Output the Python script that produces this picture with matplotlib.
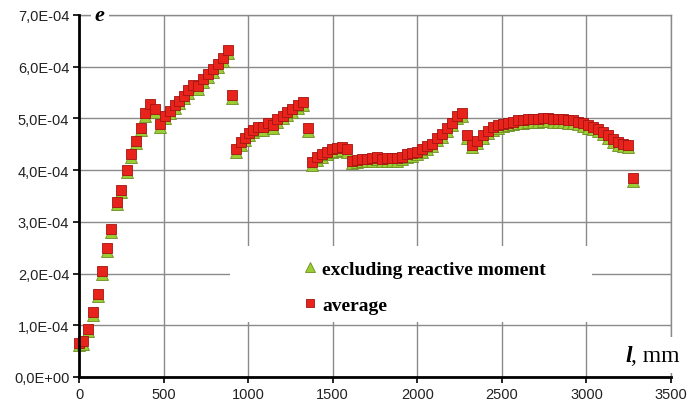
import numpy as np
import matplotlib.pyplot as plt
from matplotlib.patches import Rectangle
from matplotlib.ticker import FuncFormatter

## positions along the element, mm
l_mm = [0, 25, 55, 81, 112, 138, 167, 191, 222, 248, 282, 305, 337, 365, 392, 420,
        451, 481, 510, 538, 567, 594, 621, 647, 673, 704, 734, 764, 794, 823, 850, 880,
        905, 930, 956, 981, 1007, 1031, 1060, 1090, 1119, 1145, 1172, 1204, 1231, 1262,
        1293, 1324, 1354, 1380, 1405, 1435, 1464, 1494, 1523, 1553, 1582, 1612, 1641,
        1671, 1700, 1730, 1760, 1789, 1819, 1848, 1878, 1908, 1937, 1967, 1996, 2026,
        2056, 2085, 2115, 2144, 2174, 2203, 2233, 2262, 2296, 2325, 2355, 2390, 2420,
        2449, 2479, 2509, 2538, 2568, 2597, 2627, 2656, 2686, 2715, 2745, 2775, 2804,
        2834, 2863, 2893, 2922, 2952, 2982, 3011, 3041, 3070, 3100, 3129, 3159, 3189,
        3218, 3248, 3273]

## strain, units of 1e-4
e_average = [0.66, 0.69, 0.93, 1.25, 1.61, 2.04, 2.49, 2.86, 3.39, 3.62, 4.01, 4.31, 4.57,
             4.82, 5.10, 5.27, 5.18, 4.89, 5.05, 5.15, 5.25, 5.34, 5.44, 5.55, 5.65, 5.62,
             5.76, 5.85, 5.95, 6.05, 6.17, 6.32, 5.45, 4.41, 4.54, 4.63, 4.72, 4.78, 4.83,
             4.83, 4.92, 4.87, 4.98, 5.05, 5.12, 5.18, 5.25, 5.31, 4.81, 4.15, 4.25, 4.31,
             4.36, 4.40, 4.42, 4.44, 4.40, 4.18, 4.20, 4.22, 4.22, 4.23, 4.26, 4.22, 4.23,
             4.23, 4.23, 4.26, 4.31, 4.33, 4.36, 4.41, 4.46, 4.51, 4.63, 4.70, 4.81, 4.92,
             5.05, 5.10, 4.68, 4.49, 4.57, 4.68, 4.76, 4.83, 4.87, 4.90, 4.92, 4.94, 4.96,
             4.97, 4.98, 4.99, 4.99, 5.00, 5.00, 4.99, 4.98, 4.98, 4.97, 4.96, 4.94, 4.91,
             4.87, 4.84, 4.80, 4.74, 4.68, 4.60, 4.54, 4.51, 4.49, 3.84]

e_excl = [0.61, 0.64, 0.88, 1.20, 1.56, 1.99, 2.44, 2.81, 3.34, 3.57, 3.96, 4.26, 4.52,
          4.77, 5.05, 5.22, 5.13, 4.84, 5.00, 5.10, 5.20, 5.29, 5.39, 5.50, 5.60, 5.57,
          5.71, 5.80, 5.90, 6.00, 6.12, 6.27, 5.40, 4.36, 4.49, 4.58, 4.67, 4.73, 4.78,
          4.78, 4.87, 4.82, 4.93, 5.00, 5.07, 5.13, 5.20, 5.26, 4.76, 4.10, 4.20, 4.26,
          4.31, 4.35, 4.37, 4.39, 4.35, 4.13, 4.15, 4.17, 4.17, 4.18, 4.21, 4.17, 4.18,
          4.18, 4.18, 4.21, 4.26, 4.28, 4.31, 4.36, 4.41, 4.46, 4.58, 4.65, 4.76, 4.87,
          5.00, 5.05, 4.63, 4.44, 4.52, 4.63, 4.71, 4.78, 4.82, 4.85, 4.87, 4.89, 4.91,
          4.92, 4.93, 4.94, 4.94, 4.95, 4.95, 4.94, 4.93, 4.93, 4.92, 4.91, 4.89, 4.86,
          4.82, 4.79, 4.75, 4.69, 4.63, 4.55, 4.49, 4.46, 4.44, 3.79]

x = np.array(l_mm)
y_avg = np.array(e_average) * 1e-4
y_exc = np.array(e_excl) * 1e-4

fig = plt.figure(figsize=(6.89, 4.06), dpi=100)
ax = fig.add_axes([0.1147, 0.069, 0.8592, 0.8916])

ax.plot(x, y_exc, linestyle='none', marker='^', markersize=8.5,
        markerfacecolor='#9acd32', markeredgecolor='#6b8e23', markeredgewidth=0.6,
        label='excluding reactive moment', zorder=4, clip_on=False)
ax.plot(x, y_avg, linestyle='none', marker='s', markersize=6.8,
        markerfacecolor='#e8231b', markeredgecolor='#a31410', markeredgewidth=0.6,
        label='average', zorder=5, clip_on=False)

ax.set_xlim(0, 3500)
ax.set_ylim(0, 7e-4)
ax.set_xticks(np.arange(0, 3501, 500))
ax.set_yticks(np.arange(0, 7.01e-4, 1e-4))
ax.yaxis.set_major_formatter(FuncFormatter(lambda v, p: f'{v:.1E}'.replace('.', ',')))

ax.grid(True, color='#8a8a8a', linewidth=1.0, zorder=0)
ax.set_axisbelow(True)
for side in ['left', 'bottom']:
    ax.spines[side].set_linewidth(2.0)
    ax.spines[side].set_color('black')
    ax.spines[side].set_zorder(6)
for side in ['top', 'right']:
    ax.spines[side].set_color('#8a8a8a')
    ax.spines[side].set_linewidth(1.0)

ax.tick_params(direction='out', length=4, width=1.2, colors='black',
               labelsize=10.5, pad=3)
for lbl in ax.get_xticklabels() + ax.get_yticklabels():
    lbl.set_fontfamily('Liberation Sans')
    lbl.set_color('#222222')

## white area behind legend
ax.add_patch(Rectangle((0.255, 0.152), 0.612, 0.21, transform=ax.transAxes,
                       facecolor='white', edgecolor='none', zorder=1))
leg = ax.legend(loc='upper left', bbox_to_anchor=(0.36, 0.35), frameon=False,
                prop={'family': 'Liberation Serif', 'weight': 'bold', 'size': 14},
                handlelength=0.8, handletextpad=0.25, labelspacing=0.95,
                borderpad=0, markerscale=0.85)

## axis names
ax.text(0.035, 1.0, 'e', transform=ax.transAxes, ha='center', va='center',
        family='Liberation Serif', style='italic', weight='bold', fontsize=16,
        bbox=dict(facecolor='white', edgecolor='none', pad=3), zorder=7, clip_on=False)
ax.add_patch(Rectangle((0.9, 0.01), 0.12, 0.1, transform=ax.transAxes,
                       facecolor='white', edgecolor='none', zorder=3, clip_on=False))
ax.text(0.934, 0.044, 'l', transform=ax.transAxes, ha='right', va='baseline',
        family='Liberation Serif', style='italic', weight='bold', fontsize=17,
        zorder=7, clip_on=False)
ax.text(0.932, 0.044, ', mm', transform=ax.transAxes, ha='left', va='baseline',
        family='Liberation Serif', fontsize=17, zorder=7, clip_on=False)

plt.savefig('out.png', dpi=100)
